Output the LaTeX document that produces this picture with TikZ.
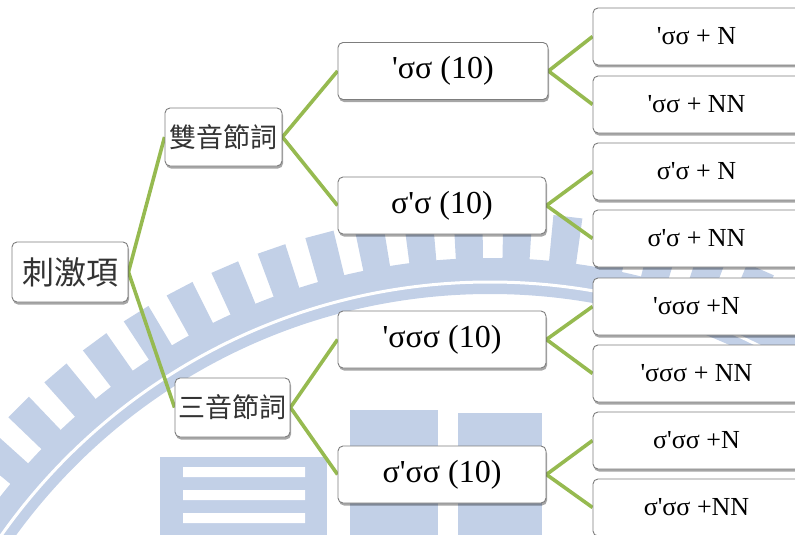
\documentclass[tikz,border=0pt]{standalone}
\usepackage{fontspec}
\setmainfont{Liberation Serif}
\newfontfamily\cjk{Noto Sans CJK TC}
\usetikzlibrary{shadows}
\definecolor{wmblue}{RGB}{194,208,231}
\definecolor{lgreen}{RGB}{150,186,80}
\definecolor{boxgray}{RGB}{125,125,125}
\pgfdeclarelayer{wm}
\pgfdeclarelayer{bg}
\pgfsetlayers{wm,bg,main}
\newcommand\stq{\textquotesingle}
\begin{document}
\begin{tikzpicture}[x=1pt,y=-1pt,
  box/.style={draw=boxgray, line width=0.9pt, fill=white, rounded corners=5pt, inner sep=0pt,
    drop shadow={shadow xshift=1pt, shadow yshift=-2.5pt, opacity=0.35, fill=black}},
  cjkbox/.style={box, font=\cjk\fontsize{27}{30}\selectfont, text=black!80},
  midbox/.style={box, minimum width=208pt, minimum height=57pt, font=\fontsize{32}{36}\selectfont},
  leafbox/.style={box, minimum width=207pt, minimum height=57pt, font=\fontsize{26}{30}\selectfont},
  link/.style={draw=lgreen, line width=3.6pt}]
\useasboundingbox (0,0) rectangle (795,535);

% watermark
\begin{pgfonlayer}{wm}
  \fill[wmblue] (160,457) rectangle (327,540);
  \fill[white] (183,467) rectangle (305,477) (183,490) rectangle (305,500) (183,513) rectangle (305,523);
  \fill[wmblue] (350,410) rectangle (438,540);
  \fill[wmblue] (458,413) rectangle (542,540);
  \begin{scope}[shift={(490,880)}, y=1pt]
    \fill[wmblue, even odd rule] (0,0) circle[radius=622] (0,0) circle[radius=586];
    \draw[white, line width=3pt] (0,0) circle[radius=598];
    \foreach \a in {36,40.3,...,156} {
      \fill[wmblue] ({\a-1.25}:620) -- ({\a-1.25}:668) -- ({\a+1.25}:668) -- ({\a+1.25}:620) -- cycle;
    }
  \end{scope}
\end{pgfonlayer}

% nodes
\node[cjkbox, minimum width=116pt, minimum height=60pt, font=\cjk\fontsize{32}{36}\selectfont] (root) at (70,272) {刺激項};
\node[cjkbox, minimum width=117pt, minimum height=58pt] (d2) at (223.5,137) {雙音節詞};
\node[cjkbox, minimum width=115pt, minimum height=59pt] (d3) at (232.5,407.5) {三音節詞};

\node[midbox, minimum width=210pt] (m1) at (443,71) {\stq σσ (10)};
\node[midbox] (m2) at (442,205.5) {σ\stq σ (10)};
\node[midbox] (m3) at (442,339.5) {\stq σσσ (10)};
\node[midbox] (m4) at (442,474.5) {σ\stq σσ (10)};

\node[leafbox] (l1) at (696.5,36.5) {\stq σσ + N};
\node[leafbox] (l2) at (696.5,104.5) {\stq σσ + NN};
\node[leafbox] (l3) at (696.5,171.5) {σ\stq σ + N};
\node[leafbox] (l4) at (696.5,238.5) {σ\stq σ + NN};
\node[leafbox] (l5) at (696.5,306.5) {\stq σσσ +N};
\node[leafbox] (l6) at (696.5,373.5) {\stq σσσ + NN};
\node[leafbox] (l7) at (696.5,440.5) {σ\stq σσ +N};
\node[leafbox] (l8) at (696.5,507.5) {σ\stq σσ +NN};

% connectors
\begin{pgfonlayer}{bg}
  \draw[link] (root.east) -- (d2.west);
  \draw[link] (root.east) -- (d3.west);
  \draw[link] (d2.east) -- (m1.west);
  \draw[link] (d2.east) -- (m2.west);
  \draw[link] (d3.east) -- (m3.west);
  \draw[link] (d3.east) -- (m4.west);
  \draw[link] (m1.east) -- (l1.west);
  \draw[link] (m1.east) -- (l2.west);
  \draw[link] (m2.east) -- (l3.west);
  \draw[link] (m2.east) -- (l4.west);
  \draw[link] (m3.east) -- (l5.west);
  \draw[link] (m3.east) -- (l6.west);
  \draw[link] (m4.east) -- (l7.west);
  \draw[link] (m4.east) -- (l8.west);
\end{pgfonlayer}
\end{tikzpicture}
\end{document}
